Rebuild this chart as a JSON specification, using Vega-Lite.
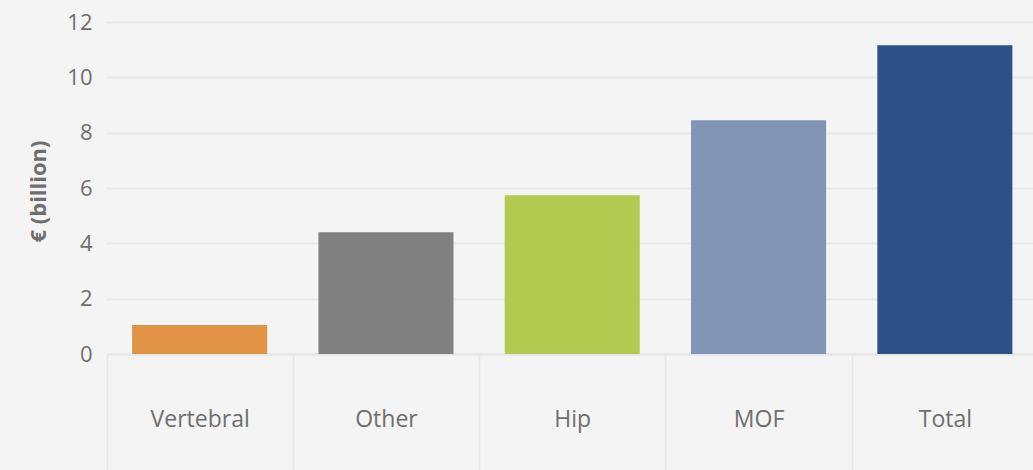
{
  "$schema": "https://vega.github.io/schema/vega-lite/v6.json",
  "width": 927,
  "height": 332,
  "autosize": {"type": "none"},
  "padding": {"left": 106, "top": 22, "right": 0, "bottom": 116},
  "background": "#f4f4f4",
  "config": {
    "view": {"stroke": null},
    "font": "Open Sans"
  },
  "data": {
    "values": [
      {"category": "Vertebral", "value": 1.05},
      {"category": "Other", "value": 4.4},
      {"category": "Hip", "value": 5.74},
      {"category": "MOF", "value": 8.45},
      {"category": "Total", "value": 11.16}
    ]
  },
  "mark": {"type": "bar", "width": {"band": 0.725}},
  "encoding": {
    "x": {
      "field": "category",
      "type": "nominal",
      "sort": null,
      "scale": {"range": [0.5, 932], "paddingInner": 0, "paddingOuter": 0},
      "axis": {
        "title": null,
        "labelAngle": 0,
        "labelFont": "Open Sans",
        "labelFontSize": 23,
        "labelColor": "#6e6e6e",
        "labelBaseline": "middle",
        "labelPadding": -55,
        "tickBand": "extent",
        "tickSize": 120,
        "tickColor": "#e6e6e6",
        "tickWidth": 1.5,
        "domainColor": "#e6e6e6",
        "domainWidth": 2,
        "grid": false
      }
    },
    "y": {
      "field": "value",
      "type": "quantitative",
      "scale": {"domain": [0, 12]},
      "axis": {
        "title": "€ (billion)",
        "titleFont": "Open Sans",
        "titleFontSize": 22,
        "titleFontWeight": "bold",
        "titleColor": "#6e6e6e",
        "titleAngle": -90,
        "titleAlign": "center",
        "titleBaseline": "middle",
        "titleX": -68,
        "titleY": 169,
        "values": [0, 2, 4, 6, 8, 10, 12],
        "labelFont": "Open Sans",
        "labelFontSize": 22,
        "labelColor": "#6e6e6e",
        "labelPadding": 14,
        "domain": false,
        "ticks": false,
        "grid": true,
        "gridColor": "#e8e8e8",
        "gridWidth": 2
      }
    },
    "color": {
      "field": "category",
      "type": "nominal",
      "scale": {
        "domain": ["Vertebral", "Other", "Hip", "MOF", "Total"],
        "range": ["#e09245", "#808080", "#b4c94f", "#8295b6", "#2e5088"]
      },
      "legend": null
    }
  }
}
